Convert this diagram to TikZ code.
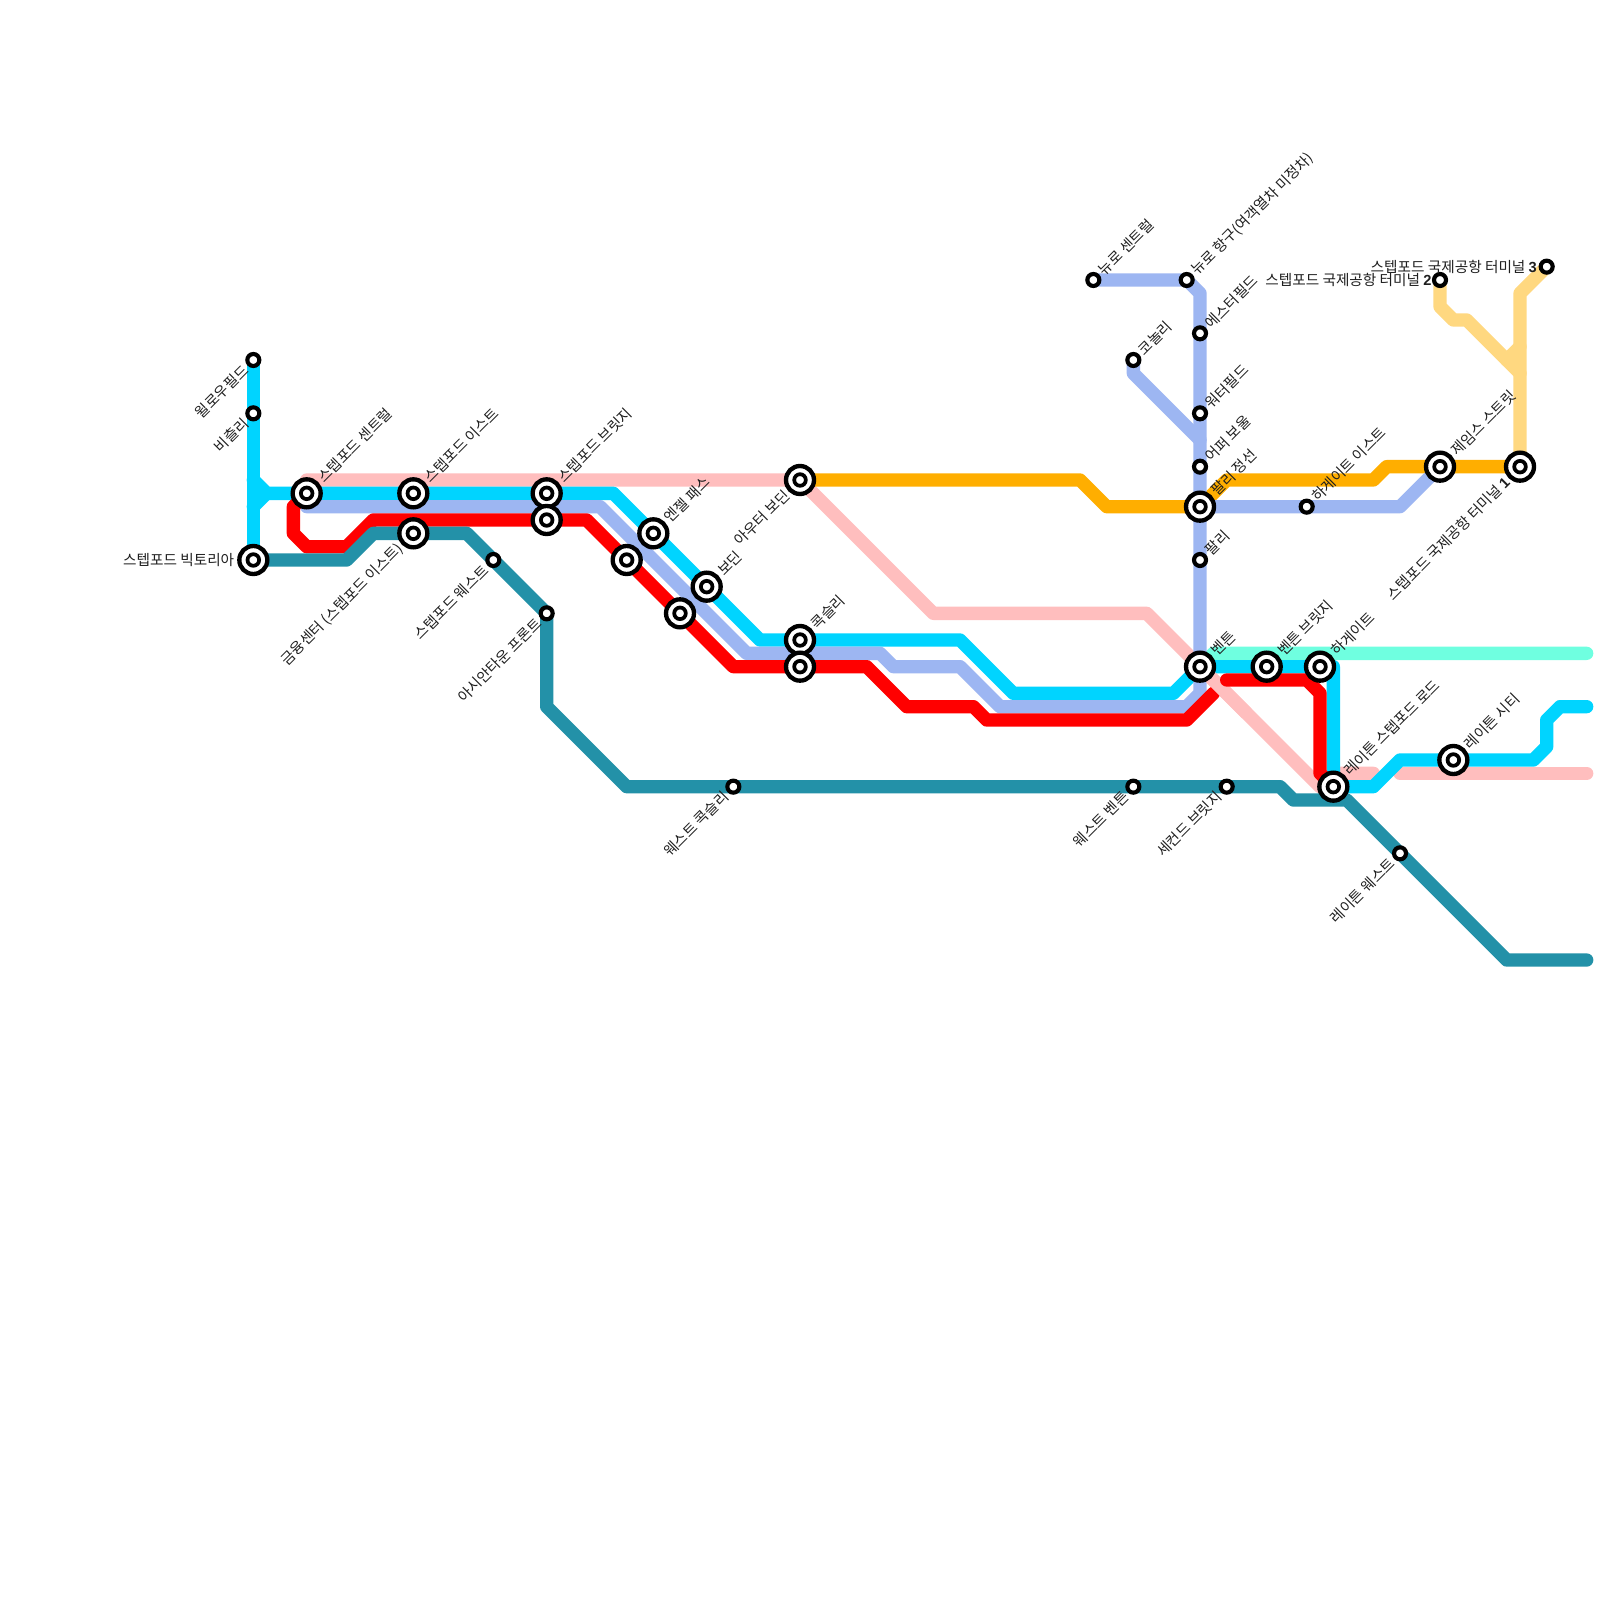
\documentclass[tikz,border=0pt]{standalone}
\usepackage{fontspec}
\setmainfont{Noto Sans CJK KR}
\newfontfamily\latinb{Liberation Sans}[BoldFont={Liberation Sans Bold}]
\newcommand{\dg}[1]{{\latinb\bfseries #1}}
\definecolor{cCyan}{HTML}{00D4FF}
\definecolor{cPink}{HTML}{FFBEBE}
\definecolor{cOrange}{HTML}{FFAE00}
\definecolor{cBlue}{HTML}{9DB6F2}
\definecolor{cRed}{HTML}{FF0000}
\definecolor{cTeal}{HTML}{2391A8}
\definecolor{cAqua}{HTML}{6FFFE0}
\definecolor{cSand}{HTML}{FFD880}
\tikzset{
  x=0.2cm,y=-0.2cm,
  metro/.style={line width=0.2cm,line cap=round,line join=round},
  hub/.style={circle,draw=black,fill=white,line width=0.065cm,minimum size=0.42cm,inner sep=0pt,outer sep=0pt,
    path picture={\draw[line width=0.056cm,black] (path picture bounding box.center) circle[radius=0.087cm];}},
  stop/.style={circle,draw=black,fill=white,line width=0.062cm,minimum size=0.18cm,inner sep=0pt,outer sep=0pt},
  lab/.style={font=\fontsize{6.25pt}{7pt}\selectfont,text=black!88,inner sep=0pt},
  ur/.style={lab,rotate=45,anchor=west},
  dl/.style={lab,rotate=45,anchor=east},
  lf/.style={lab,anchor=east},
}
\begin{document}
\begin{tikzpicture}
\useasboundingbox[fill=white] (0,0) rectangle (120,120);
% coordinates
\foreach \n/\x/\y in {
 will/19/27,beech/19/31,vict/19/42,cent/23/37,east/31/37,fin/31/40,west/37/42,asia/41/46,
 brA/41/37,brB/41/39,hubA/47/42,angel/49/40,hubB/51/46,bodin/53/44,outer/60/36,cokA/60/48,cokB/60/50,
 wcok/55/59,wben/85/59,sec/92/59,lwest/105/64,nc/82/21,np/89/21,est/90/25,con/85/27,wat/90/31,
 upper/90/35,parl/90/38,par/90/42,heast/98/38,ben/90/50,benb/95/50,high/99/50,lsr/100/59,lcity/109/57,
 james/108/35,t1/114/35,t2/108/21,t3/116/20}
 {\coordinate (c\n) at (\x,\y);}
% lines
\draw[metro,cPink] (23,36) -- (couter) -- (70,46) -- (86,46) -- (99,59) -- (100,58) -- (103,58);
\draw[metro,cPink] (105,58) -- (119,58);
\draw[metro,cAqua] (cben) -- (91,49) -- (119,49);
\draw[metro,cOrange] (couter) -- (81,36) -- (83,38) -- (cparl) -- (92,36) -- (103,36) -- (104,35) -- (cjames) -- (ct1);
\draw[metro,cCyan] (cwill) -- (cvict);
\draw[metro,cCyan] (19,36) -- (20,37) -- (ccent) -- (46,37) -- (57,48) -- (72,48) -- (76,52) -- (88,52) -- (cben) -- (100,50) -- (clsr) -- (103,59) -- (105,57) -- (115,57) -- (116,56) -- (116,54) -- (117,53) -- (119,53);
\draw[metro,cCyan] (19,38) -- (20,37);
\draw[metro,cSand] (ct2) -- (108,23) -- (109,24) -- (110,24) -- (114,28);
\draw[metro,cSand] (ct3) -- (114,22) -- (ct1);
\draw[metro,cSand] (113,27) -- (114,26);
\draw[metro,cBlue] (23,38) -- (45,38) -- (56,49) -- (66,49) -- (67,50) -- (72,50) -- (75,53) -- (89,53) -- (90,52) -- (90,22) -- (cnp) -- (cnc);
\draw[metro,cBlue] (ccon) -- (85,28) -- (90,33);
\draw[metro,cBlue] (cparl) -- (105,38) -- (cjames);
\draw[metro,cRed] (ccent) -- (22,38) -- (22,40) -- (23,41) -- (26,41) -- (28,39) -- (44,39) -- (55,50) -- (65,50) -- (68,53) -- (73,53) -- (74,54) -- (89,54) -- (91,52);
\draw[line width=0.2cm,cPink] (90.5,50.5) -- (93.5,53.5);
\draw[metro,cRed] (92,51) -- (98,51) -- (99,52) -- (99,58) -- (clsr);
\draw[metro,cTeal] (cvict) -- (26,42) -- (28,40) -- (35,40) -- (casia) -- (41,53) -- (47,59) -- (96,59) -- (97,60) -- (101,60) -- (113,72) -- (119,72);
% stations
\foreach \n in {vict,cent,east,fin,brA,brB,hubA,angel,hubB,bodin,outer,cokA,cokB,parl,ben,benb,high,lsr,lcity,james,t1}
 {\node[hub] (\n) at (c\n) {};}
\foreach \n in {will,beech,west,asia,wcok,wben,sec,lwest,nc,np,est,con,wat,upper,par,heast,t2,t3}
 {\node[stop] (\n) at (c\n) {};}
% labels
\node[dl] (l1) at ([shift={(-0.55,0.55)}]cwill) {윌로우필드};
\node[dl] (l2) at ([shift={(-0.55,0.55)}]cbeech) {비츨리};
\node[lf] (l3) at (17.6,42) {스텝포드 빅토리아};
\node[ur] (l4) at ([shift={(1,-1)}]ccent) {스텝포드 센트럴};
\node[ur] (l5) at ([shift={(1,-1)}]ceast) {스텝포드 이스트};
\node[dl] (l6) at ([shift={(-0.95,0.95)}]cfin) {금융센터 (스텝포드 이스트)};
\node[dl] (l7) at ([shift={(-0.55,0.55)}]cwest) {스텝포드 웨스트};
\node[dl] (l8) at ([shift={(-0.55,0.55)}]casia) {아시안타운 프론트};
\node[ur] (l9) at ([shift={(1,-1)}]cbrA) {스텝포드 브릿지};
\node[ur] (l10) at ([shift={(1,-1)}]cangel) {엔젤 패스};
\node[ur] (l11) at ([shift={(1,-1)}]cbodin) {보딘};
\node[dl] (l12) at ([shift={(-0.95,0.95)}]couter) {아우터 보딘};
\node[ur] (l13) at ([shift={(1,-1)}]ccokA) {콕슬리};
\node[dl] (l14) at ([shift={(-0.55,0.55)}]cwcok) {웨스트 콕슬리};
\node[dl] (l15) at ([shift={(-0.55,0.55)}]cwben) {웨스트 벤튼};
\node[dl] (l16) at ([shift={(-0.55,0.55)}]csec) {세컨드 브릿지};
\node[dl] (l17) at ([shift={(-0.55,0.55)}]clwest) {레이튼 웨스트};
\node[ur] (l18) at ([shift={(0.55,-0.55)}]cnc) {뉴로 센트럴};
\node[ur] (l19) at ([shift={(0.55,-0.55)}]cnp) {뉴로 항구(여객열차 미정차)};
\node[ur] (l20) at ([shift={(0.55,-0.55)}]cest) {에스터필드};
\node[ur] (l21) at ([shift={(0.55,-0.55)}]ccon) {코놀리};
\node[ur] (l22) at ([shift={(0.55,-0.55)}]cwat) {워터필드};
\node[ur] (l23) at ([shift={(0.55,-0.55)}]cupper) {어퍼 보울};
\node[ur] (l24) at ([shift={(1,-1)}]cparl) {팔리 정선};
\node[ur] (l25) at ([shift={(0.55,-0.55)}]cpar) {팔리};
\node[ur] (l26) at ([shift={(0.55,-0.55)}]cheast) {하게이트 이스트};
\node[ur] (l27) at ([shift={(1,-1)}]cben) {벤튼};
\node[ur] (l28) at ([shift={(1,-1)}]cbenb) {벤튼 브릿지};
\node[ur] (l29) at ([shift={(1,-1)}]chigh) {하게이트};
\node[ur] (l30) at ([shift={(1,-1)}]clsr) {레이튼 스텝포드 로드};
\node[ur] (l31) at ([shift={(1,-1)}]clcity) {레이튼 시티};
\node[ur] (l32) at ([shift={(1,-1)}]cjames) {제임스 스트릿};
\node[dl] (l33) at ([shift={(-0.95,0.95)}]ct1) {스텝포드 국제공항 터미널 \dg{1}};
\node[lf] (l34) at (107.4,21) {스텝포드 국제공항 터미널 \dg{2}};
\node[lf] (l35) at (115.3,20) {스텝포드 국제공항 터미널 \dg{3}};
\end{tikzpicture}
\end{document}
